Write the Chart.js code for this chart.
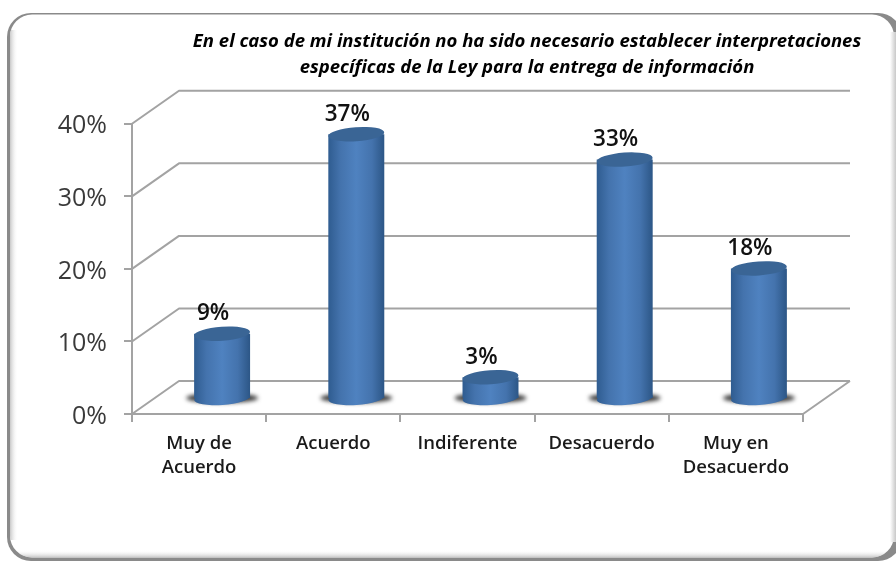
<!DOCTYPE html>
<html><head><meta charset="utf-8">
<script src="https://cdn.jsdelivr.net/npm/chart.js@4/dist/chart.umd.min.js"></script>
<style>html,body{margin:0;padding:0;background:#fff}#w{width:896px;height:562px}</style>
</head><body><div id="w"><canvas id="c" width="896" height="562"></canvas></div>
<script>
const categories = [["Muy de","Acuerdo"],"Acuerdo","Indiferente","Desacuerdo",["Muy en","Desacuerdo"]];
const percentValues = [9,36.5,3,33,18];
const tickValues = [0,10,20,30,40];
const titleLines = ["En el caso de mi institución no ha sido necesario establecer interpretaciones","específicas de la Ley para la entrega de información"];

const DEPTH_X = 47, DEPTH_Y = 33, SHIFT_X = 23, SHIFT_Y = -15, ELL_RY = 7, TILT = -0.07;
const FONT = '"Open Sans"';

function rr(ctx,x,y,w,h,r){ctx.beginPath();ctx.roundRect(x,y,w,h,r);}

const scene = {
  id:'scene',
  afterLayout(chart){
    const t = chart.titleBlock;
    t.left = 192; t.right = 862;
    const ys = chart.scales.y;
    if(!ys._wrapped){
      const orig = ys.drawLabels.bind(ys);
      ys.drawLabels = function(a){
        const ctx=chart.ctx;ctx.save();ctx.translate(0,2.5);orig(a);ctx.restore();
      };
      ys._wrapped = true;
    }
  },
  beforeDraw(chart){
    const ctx = chart.ctx;
    ctx.save();
    ctx.fillStyle='#fff';ctx.fillRect(0,0,896,562);
    ctx.fillStyle='#8a8a8a';rr(ctx,7,13,895,548,24);ctx.fill();
    ctx.save();
    rr(ctx,10,14.5,884,543,22);ctx.clip();
    ctx.fillStyle='#fff';ctx.fillRect(0,0,896,562);
    const g=ctx.createLinearGradient(10,0,18,0);
    g.addColorStop(0,'#c8c8c8');g.addColorStop(1,'rgba(255,255,255,0)');
    ctx.fillStyle=g;ctx.fillRect(10,30,8,510);
    const gb=ctx.createLinearGradient(0,550,0,558);
    gb.addColorStop(0,'rgba(255,255,255,0)');gb.addColorStop(1,'#bdbdbd');
    ctx.fillStyle=gb;ctx.fillRect(10,550,884,8);
    ctx.restore();
    const gr=ctx.createLinearGradient(890,0,896,0);
    gr.addColorStop(0,'#fff');gr.addColorStop(1,'#c8c8c8');
    ctx.fillStyle=gr;ctx.fillRect(890,32,6,510);
    ctx.restore();
  },
  beforeDatasetsDraw(chart){
    const ctx=chart.ctx,a=chart.chartArea,y=chart.scales.y;
    ctx.save();
    ctx.strokeStyle='#a3a3a3';ctx.lineWidth=2;ctx.lineJoin='round';
    ctx.beginPath();
    tickValues.forEach(v=>{
      const p=y.getPixelForValue(v);
      ctx.moveTo(a.left,p);ctx.lineTo(a.left+DEPTH_X,p-DEPTH_Y);ctx.lineTo(a.right+DEPTH_X,p-DEPTH_Y);
    });
    const b=y.getPixelForValue(0);
    ctx.moveTo(a.left,b);ctx.lineTo(a.right,b);ctx.lineTo(a.right+DEPTH_X,b-DEPTH_Y);
    ctx.stroke();
    ctx.restore();
  },
  beforeDatasetDraw(chart){
    const ctx=chart.ctx,meta=chart.getDatasetMeta(0);
    meta.data.forEach(bar=>{
      ctx.save();
      ctx.filter='blur(2px)';
      ctx.fillStyle='rgba(35,35,35,0.9)';
      ctx.beginPath();
      ctx.ellipse(bar.x+SHIFT_X,bar.base+SHIFT_Y,bar.width/2+8,5,0,0,Math.PI*2);
      ctx.fill();
      ctx.restore();
    });
    ctx.save();
    ctx.translate(SHIFT_X,SHIFT_Y);
  },
  afterDatasetDraw(chart){
    const ctx=chart.ctx,meta=chart.getDatasetMeta(0);
    meta.data.forEach(bar=>{
      const r=bar.width/2;
      ctx.fillStyle=bar.options.backgroundColor;
      ctx.beginPath();ctx.ellipse(bar.x,bar.base,r,ELL_RY,TILT,0,Math.PI*2);ctx.fill();
      ctx.fillStyle='#3a6595';
      ctx.beginPath();ctx.ellipse(bar.x,bar.y,r,ELL_RY,TILT,0,Math.PI*2);ctx.fill();
    });
    ctx.restore();
  },
  afterDatasetsDraw(chart){
    const ctx=chart.ctx,meta=chart.getDatasetMeta(0);
    ctx.save();
    ctx.fillStyle='#111';ctx.font='600 22.5px '+FONT;ctx.textAlign='center';ctx.textBaseline='middle';
    meta.data.forEach((bar,i)=>{
      ctx.fillText(Math.round(percentValues[i]+0.01)+'%',bar.x+SHIFT_X-9,bar.y+SHIFT_Y-20);
    });
    ctx.restore();
  }
};

new Chart(document.getElementById('c'),{
  type:'bar',
  data:{labels:categories,datasets:[{
    data:percentValues,
    barPercentage:0.417,categoryPercentage:1,
    backgroundColor(c){
      const ch=c.chart;
      if(!ch.scales.x||c.dataIndex===undefined)return '#4f81bd';
      const x=ch.scales.x.getPixelForValue(c.dataIndex);
      if(!isFinite(x))return '#4f81bd';
      const g=ch.ctx.createLinearGradient(x-28,0,x+28,0);
      g.addColorStop(0,'#2f5c90');g.addColorStop(0.22,'#4473ad');g.addColorStop(0.5,'#4f82c0');g.addColorStop(0.78,'#4473ad');g.addColorStop(1,'#2c5686');
      return g;
    },
    borderWidth:0
  }]},
  options:{
    responsive:false,animation:false,devicePixelRatio:1,
    layout:{padding:{left:0,right:93,top:0,bottom:0}},
    scales:{
      x:{offset:true,
        border:{display:true,color:'#a3a3a3',width:2},
        grid:{offset:true,drawOnChartArea:false,drawTicks:true,tickLength:8,color:'#a3a3a3',lineWidth:2},
        ticks:{color:'#1a1a1a',font:{family:FONT,size:18.5,weight:'600',lineHeight:1.3},padding:10,maxRotation:0,autoSkip:false},
        afterFit(s){s.height=148;}
      },
      y:{min:0,max:40,
        border:{display:true,color:'#a3a3a3',width:2},
        grid:{drawOnChartArea:false,drawTicks:true,tickLength:8,color:'#a3a3a3',lineWidth:2},
        ticks:{stepSize:10,color:'#3a3a3a',font:{family:FONT,size:25},padding:17,callback:v=>v+'%'},
        afterFit(s){s.width=132;}
      }
    },
    plugins:{
      legend:{display:false},tooltip:{enabled:false},
      title:{display:true,text:titleLines,color:'#000',align:'center',
        font:{family:FONT,size:18.5,weight:'bold',style:'italic',lineHeight:1.4},
        padding:{top:29,bottom:43}}
    }
  },
  plugins:[scene]
});
</script></body></html>
